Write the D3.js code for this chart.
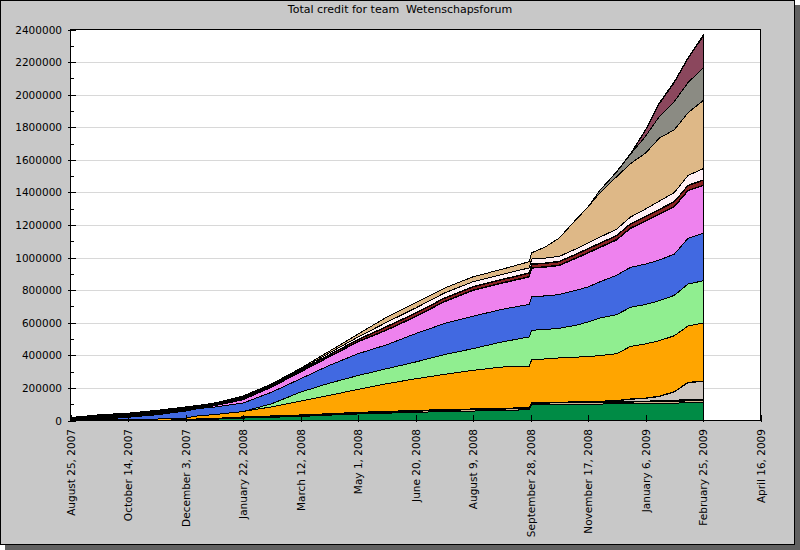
<!DOCTYPE html>
<html><head><meta charset="utf-8">
<script src="https://cdn.jsdelivr.net/npm/d3@7"></script>
<style>body{margin:0;background:#fff}svg{display:block}text{font-family:"DejaVu Sans",sans-serif;fill:#000}</style>
</head><body><svg id="c" width="800" height="550"></svg>
<script>
// ---------- DATA ----------
const titleText = "Total credit for team  Wetenschapsforum";
const dates = ["2007-08-25","2007-09-19","2007-10-14","2007-11-08","2007-12-03","2007-12-15","2007-12-28",
  "2008-01-22","2008-02-16","2008-03-12","2008-04-06","2008-05-01","2008-05-26","2008-06-20","2008-07-15",
  "2008-08-09","2008-09-03","2008-09-27","2008-09-29","2008-10-11","2008-10-23","2008-11-07","2008-11-17",
  "2008-11-27","2008-12-12","2008-12-24","2009-01-06","2009-01-18","2009-01-31","2009-02-12","2009-02-25"];
const green     = [0,0,0,0,1000,5000,8000,15000,20000,25000,33000,40000,45000,50000,55000,58000,62000,66000,95000,97000,98000,99000,100000,101000,102000,103000,105000,106000,107000,108000,109000];
const tan       = [0,0,0,0,0,0,0,2000,3000,4000,4000,5000,6000,7000,7000,8000,8000,8000,10000,10000,10000,10000,10000,10000,10000,10000,10000,11000,11000,12000,12000];
const black1    = [0,0,0,0,3000,3000,3000,3000,3000,3000,3000,3000,3000,3000,3000,3000,3000,3000,3000,3000,3000,3000,3000,3000,3000,3000,3000,3000,3000,3000,3000];
const salmon    = [0,0,0,0,0,0,0,0,0,0,0,0,0,0,0,0,0,0,0,0,0,0,0,0,0,0,0,3000,4000,4000,4000];
const silver    = [0,0,0,0,0,0,0,0,0,0,0,0,0,0,0,0,0,0,0,0,0,0,0,2000,6000,14000,18000,24000,50000,105000,112000];
const black2    = [0,0,0,0,2000,2000,2000,2000,2000,2000,2000,2000,2000,2000,2000,2000,2000,2000,2000,2000,2000,2000,2000,2000,2000,2000,2000,2000,2000,2000,2000];
const orange    = [4000,5000,7000,9000,9000,20000,23000,33000,56000,85000,112000,141000,170000,194000,216000,237000,253000,255000,263000,266000,271000,275000,277000,280000,287000,323000,332000,341000,343000,346000,357000];
const lightGreen= [0,0,0,0,0,0,0,0,19000,55000,75000,85000,92000,103000,121000,133000,154000,179000,181000,181000,182000,196000,213000,230000,240000,240000,242000,245000,248000,258000,258000];
const blue      = [0,2000,13000,26000,43000,44000,46000,52000,71000,82000,109000,134000,147000,174000,191000,199000,200000,200000,205000,206000,207000,215000,215000,222000,242000,245000,248000,250000,253000,280000,292000];
const violet    = [0,0,1000,2000,3000,5000,8000,20000,31000,41000,52000,72000,89000,103000,133000,158000,160000,168000,176000,176000,178000,196000,208000,210000,216000,239000,262000,280000,290000,292000,292000];
const black3    = [10000,22000,18000,17000,12000,6000,5000,4000,3000,3000,3000,3000,3000,3000,3000,3000,3000,3000,3000,3000,3000,3000,3000,3000,3000,3000,3000,3000,3000,3000,3000];
const darkRed   = [0,1000,1000,2000,2000,2000,3000,4000,4000,5000,8000,10000,18000,18000,18000,18000,18000,20000,20000,20000,20000,21000,22000,22000,23000,24000,25000,26000,27000,28000,30000];
const black4    = [2000,2000,2000,2000,3000,3000,3000,3000,3000,3000,3000,3000,3000,3000,3000,3000,3000,3000,3000,3000,3000,3000,3000,3000,3000,3000,3000,3000,3000,3000,3000];
const lavender  = [0,0,1000,1000,2000,2000,3000,5000,5000,6000,10000,14000,25000,30000,30000,30000,30000,30000,30000,30000,30000,32000,34000,36000,38000,40000,45000,50000,55000,60000,68000];
const burlywood = [2000,3000,2000,3000,3000,2000,3000,7000,5000,6000,11000,18000,32000,33000,30000,30000,32000,38000,38000,69000,113000,182000,220000,271000,322000,328000,343000,386000,385000,385000,418000];
const gray      = [0,0,0,0,0,0,0,0,0,0,0,0,0,0,0,0,0,0,0,0,0,0,0,15000,29000,58000,103000,133000,174000,185000,201000];
const maroon    = [0,0,0,0,0,0,0,0,0,0,0,0,0,0,0,0,0,0,0,0,0,0,0,0,0,0,37000,78000,116000,148000,193000];
const coral     = [0,0,0,0,0,0,0,0,0,0,0,0,0,0,0,0,0,0,0,0,0,0,0,0,2000,3000,4000,5000,5000,5000,6000];
const yTicks = [0,200000,400000,600000,800000,1000000,1200000,1400000,1600000,1800000,2000000,2200000,2400000];
const xTickDates = ["2007-08-25","2007-10-14","2007-12-03","2008-01-22","2008-03-12","2008-05-01","2008-06-20",
  "2008-08-09","2008-09-28","2008-11-17","2009-01-06","2009-02-25","2009-04-16"];
const xDomain = ["2007-08-25","2009-04-16"];

// ---------- STYLE ----------
const layers = [
  {key:"green", values:green, color:"#008b45"},
  {key:"tan", values:tan, color:"#d2b48c"},
  {key:"black1", values:black1, color:"#000000"},
  {key:"salmon", values:salmon, color:"#fa8072"},
  {key:"silver", values:silver, color:"#cdc5bf"},
  {key:"black2", values:black2, color:"#000000"},
  {key:"orange", values:orange, color:"#ffa500"},
  {key:"lightGreen", values:lightGreen, color:"#90ee90"},
  {key:"blue", values:blue, color:"#4169e1"},
  {key:"violet", values:violet, color:"#ee82ee"},
  {key:"black3", values:black3, color:"#000000"},
  {key:"darkRed", values:darkRed, color:"#8b2323"},
  {key:"black4", values:black4, color:"#000000"},
  {key:"lavender", values:lavender, color:"#fff0f5"},
  {key:"burlywood", values:burlywood, color:"#deb887"},
  {key:"gray", values:gray, color:"#8b8b83"},
  {key:"maroon", values:maroon, color:"#8b475d"},
  {key:"coral", values:coral, color:"#ee7942"}
];

const parse = d3.utcParse("%Y-%m-%d");
const fmt = d3.utcFormat("%B %-d, %Y");
const svg = d3.select("#c");
const L=70.5, R=760.5, T=29.5, B=420.5;

svg.append("rect").attr("x",5).attr("y",5).attr("width",795).attr("height",545).attr("fill","#606060");
svg.append("rect").attr("x",0.5).attr("y",0.5).attr("width",794).attr("height",544).attr("fill","#c8c8c8").attr("stroke","#000");

const x = d3.scaleUtc().domain(xDomain.map(parse)).range([L,R]);
const y = d3.scaleLinear().domain([0,2400000]).range([B,T]);

svg.append("rect").attr("x",L).attr("y",T).attr("width",R-L).attr("height",B-T).attr("fill","#fff");

// gridlines
svg.append("g").selectAll("line").data(yTicks.filter(v=>v>0&&v<2400000)).join("line")
  .attr("x1",L).attr("x2",R).attr("y1",d=>Math.round(y(d))+0.5).attr("y2",d=>Math.round(y(d))+0.5)
  .attr("stroke","#d8d8d8").attr("stroke-width",1).attr("shape-rendering","crispEdges");

// stacked areas
const table = dates.map((d,i)=>{const o={date:parse(d)}; layers.forEach(l=>o[l.key]=l.values[i]); return o;});
const stacked = d3.stack().keys(layers.map(l=>l.key))(table);
const area = d3.area().x(d=>x(d.data.date)).y0(d=>y(d[0])).y1(d=>y(d[1]));
svg.append("g").selectAll("path").data(stacked).join("path")
  .attr("d",area).attr("fill",(d,i)=>layers[i].color)
  .attr("stroke","#000").attr("stroke-width",1).attr("stroke-linejoin","miter")
  .attr("shape-rendering","crispEdges");

// axes ticks
const gx = svg.append("g").attr("shape-rendering","crispEdges");
xTickDates.forEach(s=>{
  const px = Math.round(x(parse(s)))+0.5;
  gx.append("line").attr("x1",px).attr("x2",px).attr("y1",B-6).attr("y2",B+1).attr("stroke","#000");
  gx.append("text").attr("transform",`translate(${px},429) rotate(-90)`).attr("text-anchor","end")
    .attr("dy","0.35em").style("font-size","10.5px").text(fmt(parse(s)));
});
const gy = svg.append("g").attr("shape-rendering","crispEdges");
yTicks.forEach(v=>{
  const py = Math.round(y(v))+0.5;
  gy.append("line").attr("x1",L-3).attr("x2",L+5).attr("y1",py).attr("y2",py).attr("stroke","#000");
  gy.append("text").attr("x",62).attr("y",py).attr("dy","0.35em").attr("text-anchor","end")
    .style("font-size","10.5px").text(v);
});
// minor ticks
d3.range(100000,2400000,200000).forEach(v=>{
  const py = Math.round(y(v))+0.5;
  gy.append("line").attr("x1",L).attr("x2",L+3).attr("y1",py).attr("y2",py).attr("stroke","#000");
});

svg.append("rect").attr("x",L).attr("y",T).attr("width",R-L).attr("height",B-T).attr("fill","none").attr("stroke","#000");

svg.append("text").attr("x",400).attr("y",13).attr("text-anchor","middle").style("font-size","11px")
  .style("white-space","pre").text(titleText);
</script></body></html>
